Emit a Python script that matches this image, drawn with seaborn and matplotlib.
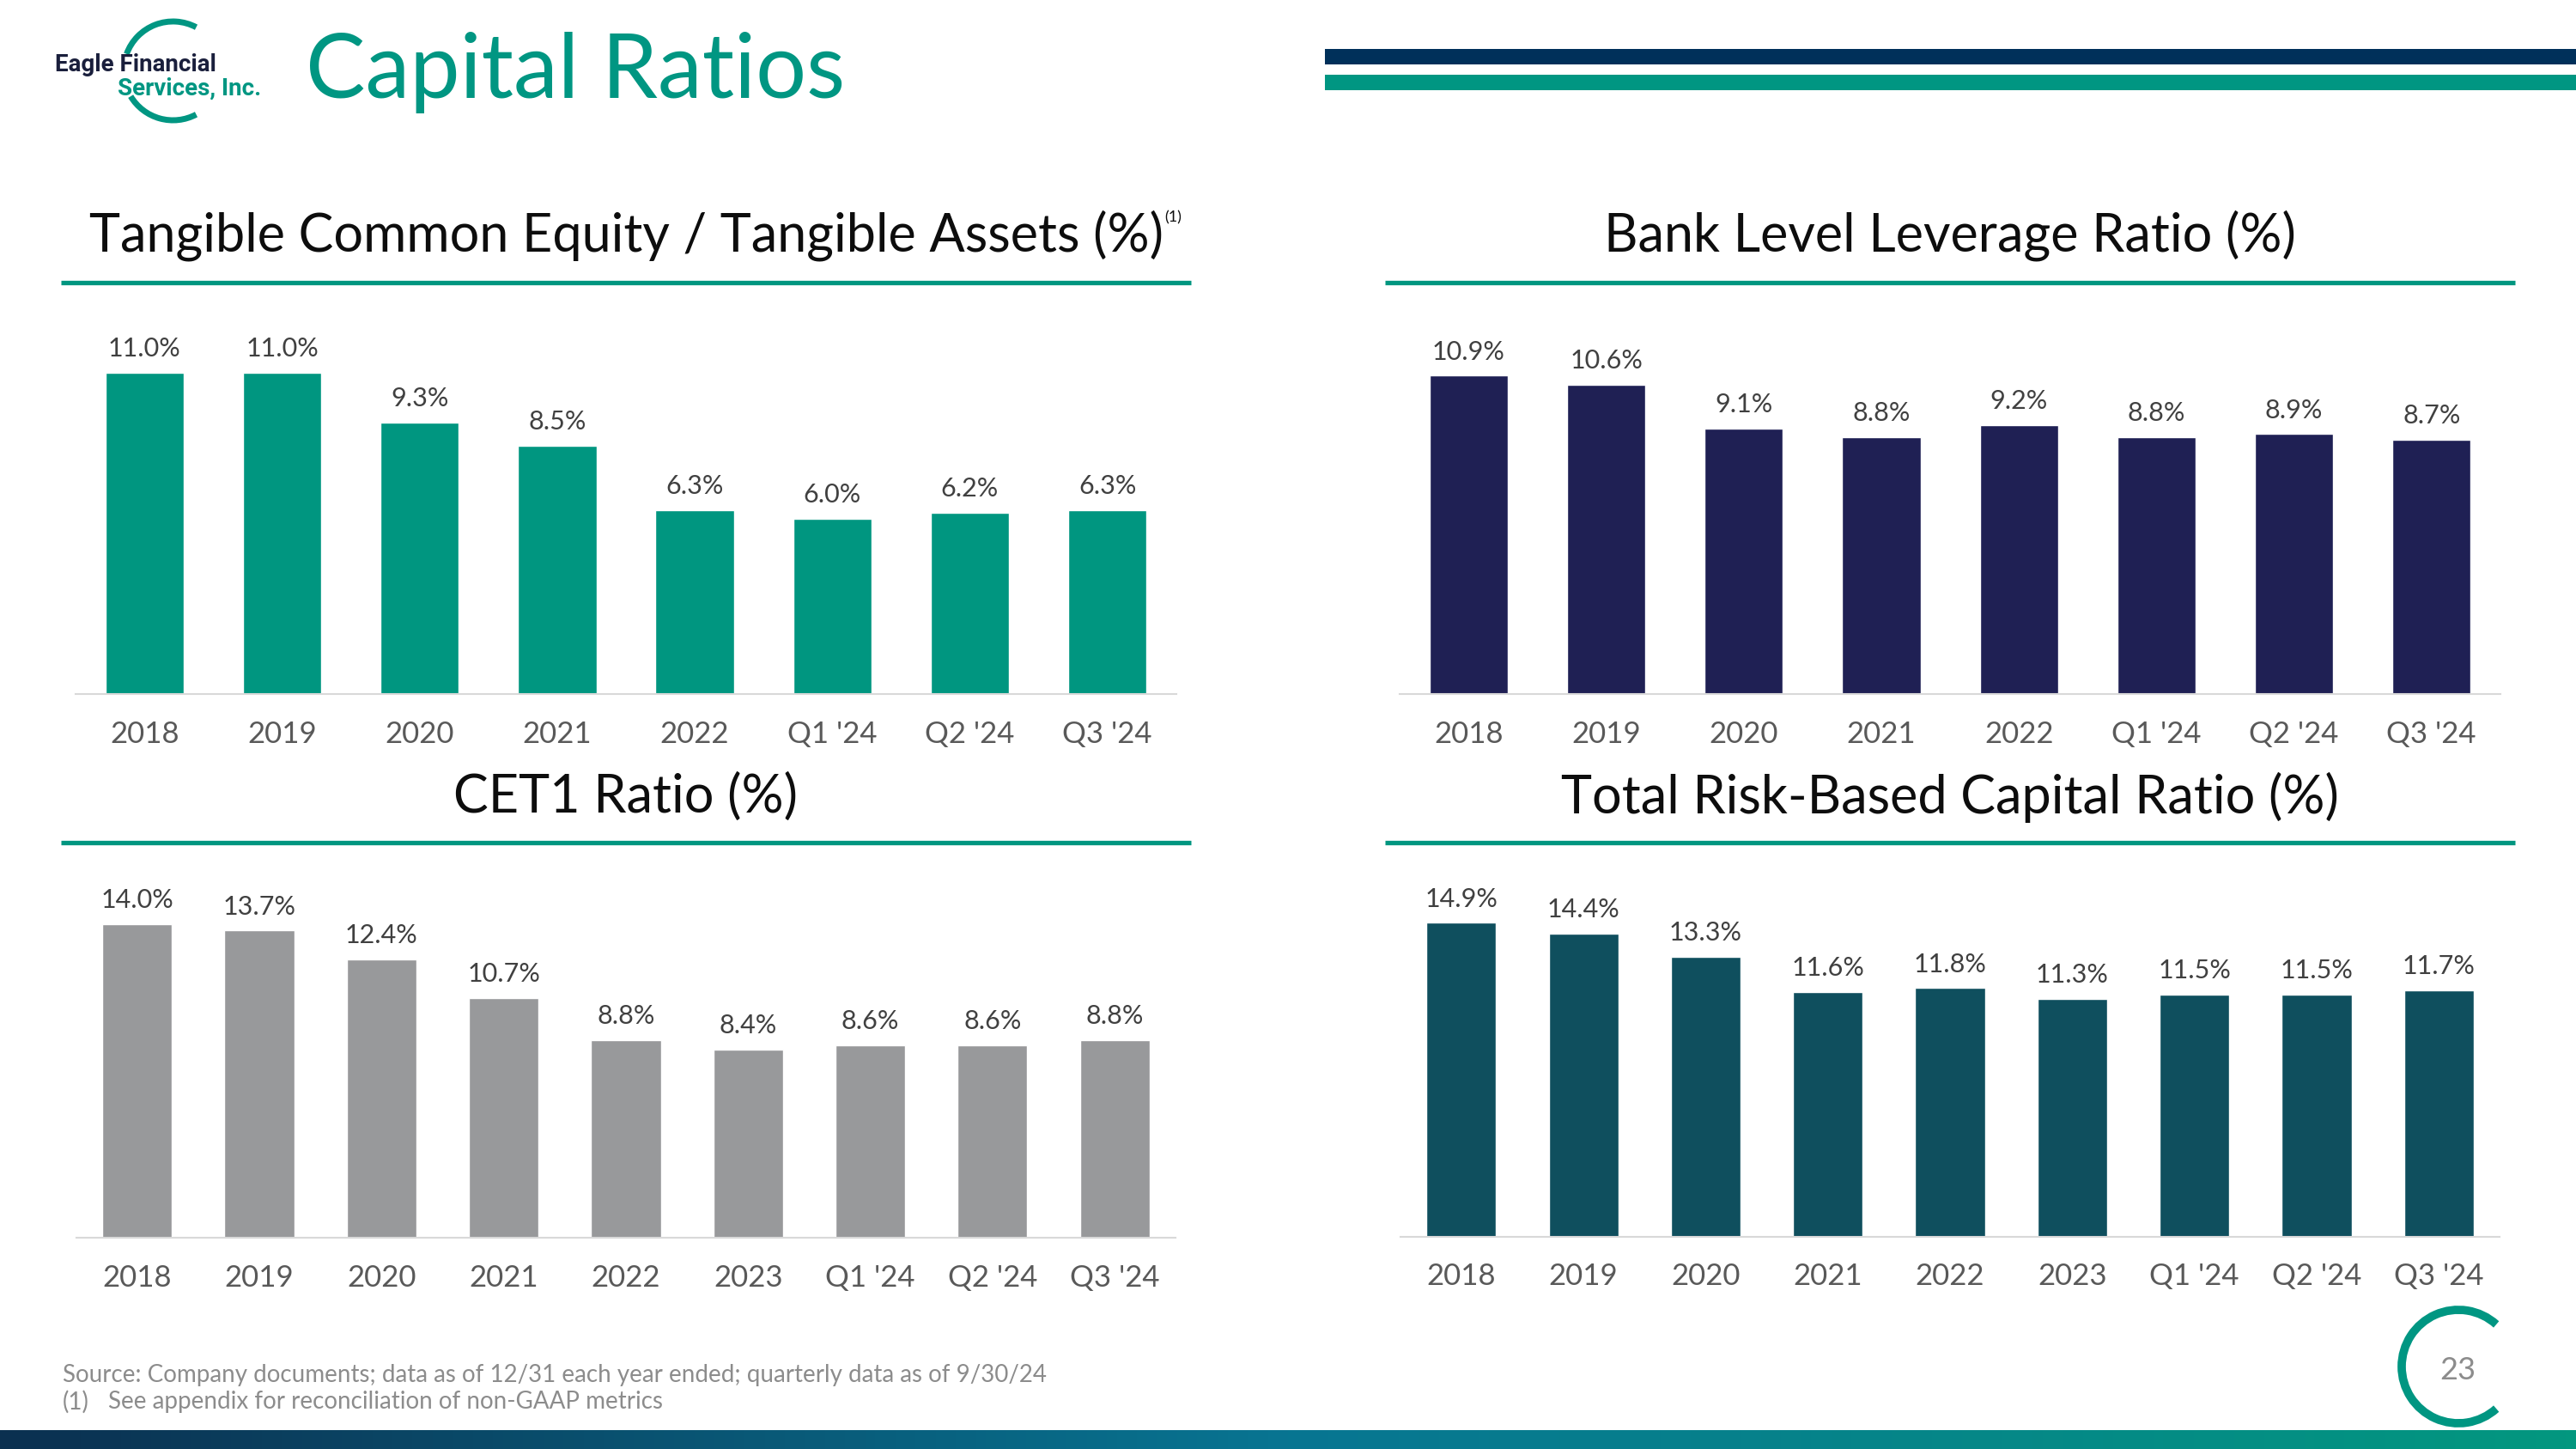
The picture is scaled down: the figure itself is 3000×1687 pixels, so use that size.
import numpy as np
import seaborn as sns
import matplotlib.pyplot as plt
from matplotlib.patches import Arc, Rectangle
from matplotlib.colors import LinearSegmentedColormap

tce_cats = ["2018", "2019", "2020", "2021", "2022", "Q1 '24", "Q2 '24", "Q3 '24"]
tce_vals = [11.0, 11.0, 9.3, 8.5, 6.3, 6.0, 6.2, 6.3]

lev_cats = ["2018", "2019", "2020", "2021", "2022", "Q1 '24", "Q2 '24", "Q3 '24"]
lev_vals = [10.9, 10.6, 9.1, 8.8, 9.2, 8.8, 8.9, 8.7]

cet1_cats = ["2018", "2019", "2020", "2021", "2022", "2023", "Q1 '24", "Q2 '24", "Q3 '24"]
cet1_vals = [14.0, 13.7, 12.4, 10.7, 8.8, 8.4, 8.6, 8.6, 8.8]

trbc_cats = ["2018", "2019", "2020", "2021", "2022", "2023", "Q1 '24", "Q2 '24", "Q3 '24"]
trbc_vals = [14.9, 14.4, 13.3, 11.6, 11.8, 11.3, 11.5, 11.5, 11.7]

TEAL = "#009680"
NAVY = "#1f2054"
GRAY = "#98999b"
PETROL = "#0f4f5e"

W, H = 3000, 1687
sns.set_style("white")
plt.rcParams["font.family"] = ["Lato", "DejaVu Sans"]

fig = plt.figure(figsize=(30, 16.87), dpi=100)

# camada de fundo em coordenadas de pixel
bg = fig.add_axes([0, 0, 1, 1])
bg.set_xlim(0, W)
bg.set_ylim(H, 0)
bg.axis("off")


def eixo_px(x0, x1, base, altura):
    return fig.add_axes([x0 / W, (H - base) / H, (x1 - x0) / W, altura / H])


def grafico(ax, cats, vals, cor, ymax):
    sns.barplot(x=cats, y=vals, color=cor, saturation=1, width=0.57, ax=ax)
    ax.set_ylim(0, ymax)
    ax.set_xlim(-0.5, len(cats) - 0.5)
    sns.despine(ax=ax, left=True)
    ax.spines["bottom"].set_color("#d9d9d9")
    ax.spines["bottom"].set_linewidth(1.5)
    ax.set_yticks([])
    ax.set_xlabel("")
    ax.set_ylabel("")
    ax.tick_params(axis="x", length=0, pad=22, labelsize=25, labelcolor="#595959")
    ax.bar_label(ax.containers[0], labels=[f"{v:.1f}%" for v in vals],
                 padding=10, fontsize=22, color="#404040")
    ax.patch.set_alpha(0)


grafico(eixo_px(88.3, 1369.7, 808, 12 * 34.0), tce_cats, tce_vals, TEAL, 12)
grafico(eixo_px(1630.4, 2911.8, 808, 12 * 34.0), lev_cats, lev_vals, NAVY, 12)
grafico(eixo_px(88.6, 1369.3, 1441, 15 * 26.1), cet1_cats, cet1_vals, GRAY, 15)
grafico(eixo_px(1630.7, 2911.4, 1439.5, 16 * 24.5), trbc_cats, trbc_vals, PETROL, 16)

# titulos dos paineis e linhas
titulos = [
    ("Tangible Common Equity / Tangible Assets (%)", 729, 274, 71, 1387, 329),
    ("Bank Level Leverage Ratio (%)", 2271, 274, 1613, 2929, 329),
    ("CET1 Ratio (%)", 729, 928, 71, 1387, 981),
    ("Total Risk-Based Capital Ratio (%)", 2271, 928, 1613, 2929, 981),
]
for txt, cx, cy, x0, x1, ly in titulos:
    bg.text(cx, cy, txt, ha="center", va="center", fontsize=44, color="#0d0d0d")
    bg.plot([x0, x1], [ly, ly], color=TEAL, lw=3.8, solid_capstyle="butt")
bg.text(1366, 253, "(1)", ha="center", va="center", fontsize=13, color="#0d0d0d")

# cabecalho
bg.text(356, 84, "Capital Ratios", ha="left", va="center", fontsize=75, color="#009682")
bg.add_patch(Rectangle((1543, 57), W - 1543, 18, color="#00305a", lw=0))
bg.add_patch(Rectangle((1543, 87), W - 1543, 18, color="#009682", lw=0))

# logo
bg.add_patch(Arc((201.5, 82.5), 115, 115, theta1=200, theta2=298, color="#009682", lw=5))
bg.add_patch(Arc((201.5, 82.5), 115, 115, theta1=62, theta2=149, color="#009682", lw=5))
bg.text(158, 75, "Eagle Financial", ha="center", va="center", fontsize=20,
        fontweight="bold", color="#1a1f3c", family=["Roboto", "DejaVu Sans"])
bg.text(221, 103, "Services, Inc.", ha="center", va="center", fontsize=20,
        fontweight="bold", color="#009682", family=["Roboto", "DejaVu Sans"])

# rodape
bg.text(73, 1601, "Source: Company documents; data as of 12/31 each year ended; quarterly data as of 9/30/24",
        ha="left", va="center", fontsize=20, color="#8c8c8c")
bg.text(73, 1632, "(1)", ha="left", va="center", fontsize=20, color="#8c8c8c")
bg.text(126, 1632, "See appendix for reconciliation of non-GAAP metrics",
        ha="left", va="center", fontsize=20, color="#8c8c8c")

bg.add_patch(Arc((2863, 1591), 132, 132, theta1=48, theta2=312, color="#009682", lw=7))
bg.text(2862, 1595, "23", ha="center", va="center", fontsize=26, color="#8c8c8c")

faixa = fig.add_axes([0, 0, 1, 22 / H])
grad = LinearSegmentedColormap.from_list("faixa", ["#0b3050", "#087592", "#03977f"])
faixa.imshow(np.linspace(0, 1, 256).reshape(1, -1), cmap=grad, aspect="auto")
faixa.axis("off")

fig.savefig("out.png", dpi=100)
